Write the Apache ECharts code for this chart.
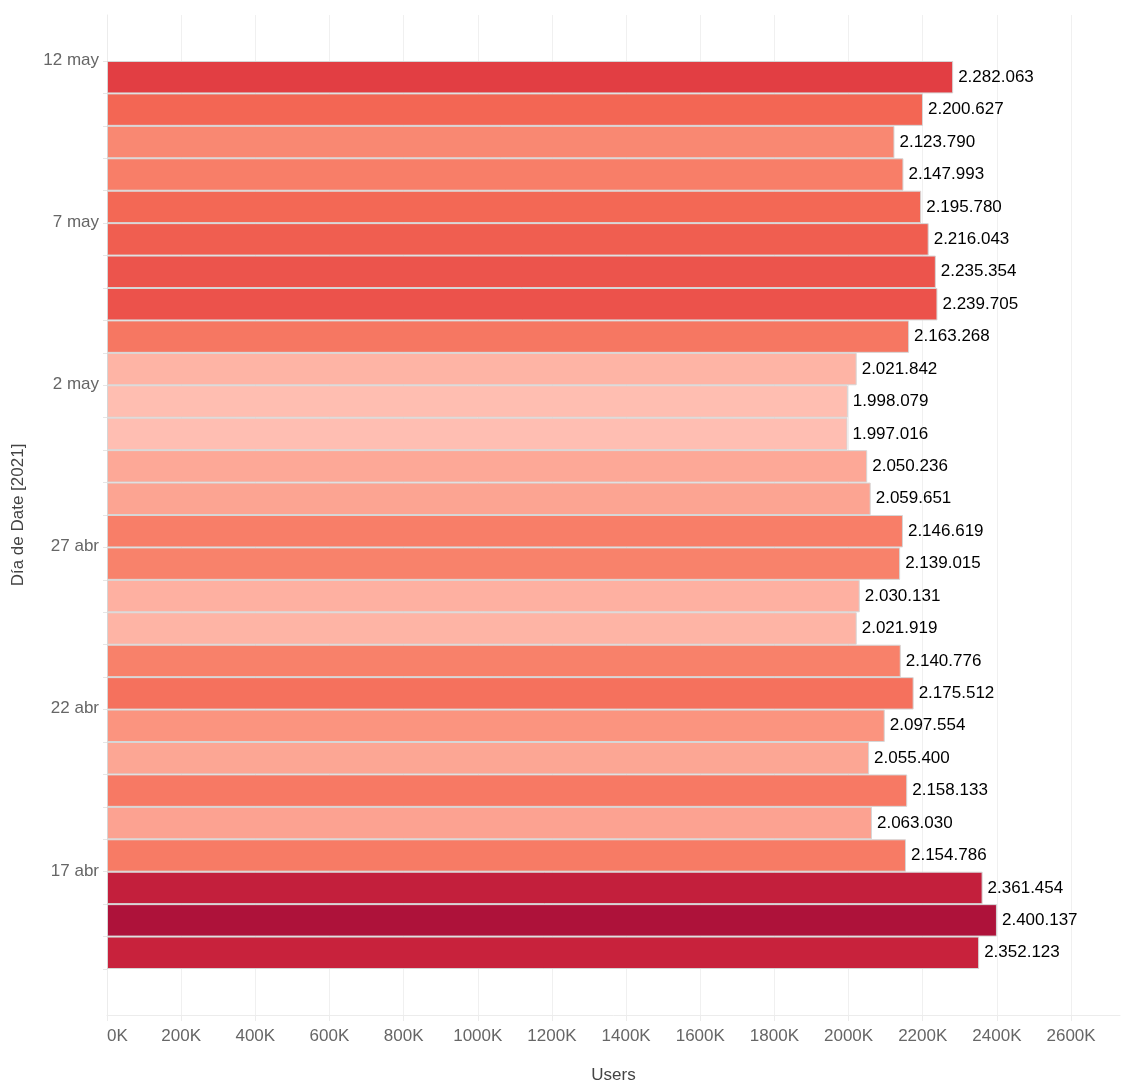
<!DOCTYPE html>
<html>
<head>
<meta charset="utf-8">
<script src="https://cdn.jsdelivr.net/npm/echarts@6/dist/echarts.min.js"></script>
<style>
  html, body { margin: 0; padding: 0; background: #fff; }
  #main { width: 1121px; height: 1081px; }
</style>
</head>
<body>
<div id="main"></div>
<script>
// dias, de abajo (15 abr) hacia arriba (12 may)
var days = ['15 abr', '16 abr', '17 abr', '18 abr', '19 abr', '20 abr', '21 abr',
            '22 abr', '23 abr', '24 abr', '25 abr', '26 abr', '27 abr', '28 abr',
            '29 abr', '30 abr', '1 may', '2 may', '3 may', '4 may', '5 may',
            '6 may', '7 may', '8 may', '9 may', '10 may', '11 may', '12 may'];

var users = [2352123, 2400137, 2361454, 2154786, 2063030, 2158133, 2055400,
             2097554, 2175512, 2140776, 2021919, 2030131, 2139015, 2146619,
             2059651, 2050236, 1997016, 1998079, 2021842, 2163268, 2239705,
             2235354, 2216043, 2195780, 2147993, 2123790, 2200627, 2282063];

var shownDays = ['17 abr', '22 abr', '27 abr', '2 may', '7 may', '12 may'];

var reds = ['#ffbeb2', '#fca290', '#f9856e', '#f36754', '#e74545', '#d3293d', '#ae123a'];

function fmtDots(v) {
    return String(v).replace(/\B(?=(\d{3})+(?!\d))/g, '.');
}

var chart = echarts.init(document.getElementById('main'));

var option = {
    animation: false,
    textStyle: { fontFamily: 'Liberation Sans, Arial, sans-serif' },
    grid: [
        { left: 107, right: 1, top: 15, bottom: 66, outerBoundsMode: 'none' },   // marco, ejes y rejilla
        { left: 107, right: 1, top: 61, bottom: 112, outerBoundsMode: 'none' }   // barras
    ],
    visualMap: {
        show: false,
        type: 'continuous',
        seriesIndex: 0,
        dimension: 0,
        min: Math.min.apply(null, users),
        max: Math.max.apply(null, users),
        inRange: { color: reds }
    },
    xAxis: [
        {
            type: 'value',
            gridIndex: 0,
            min: 0,
            max: 2732000,
            interval: 200000,
            name: 'Users',
            nameLocation: 'middle',
            nameGap: 52,
            nameTextStyle: { fontSize: 17, color: '#444' },
            axisLine: { show: true, lineStyle: { color: '#ececec', width: 1 } },
            axisTick: { show: true, length: 6, lineStyle: { color: '#ececec' } },
            axisLabel: {
                fontSize: 17,
                color: '#666',
                margin: 13,
                alignMinLabel: 'left',
                showMaxLabel: false,
                formatter: function (v) { return (v / 1000) + 'K'; }
            },
            splitLine: { show: true, showMaxLine: false, lineStyle: { color: '#f0f0f0', width: 1 } }
        },
        {
            type: 'value',
            gridIndex: 1,
            min: 0,
            max: 2732000,
            show: false
        }
    ],
    yAxis: [
        {
            type: 'value',
            gridIndex: 0,
            min: 0,
            max: 1,
            name: 'Día de Date [2021]',
            nameLocation: 'middle',
            nameGap: 80,
            nameTextStyle: { fontSize: 17, color: '#444' },
            axisLine: { show: true, lineStyle: { color: '#ececec', width: 1 } },
            axisTick: { show: false },
            axisLabel: { show: false },
            splitLine: { show: false }
        },
        {
            type: 'category',
            gridIndex: 1,
            data: days,
            axisLine: { show: false },
            axisTick: { show: true, interval: 0, length: 4, lineStyle: { color: '#e6e6e6' } },
            axisLabel: {
                fontSize: 17,
                color: '#666',
                margin: 8,
                verticalAlign: 'bottom',
                lineHeight: 34,
                interval: function (i, v) { return shownDays.indexOf(v) >= 0; }
            },
            splitLine: { show: false }
        }
    ],
    series: [
        {
            type: 'bar',
            xAxisIndex: 1,
            yAxisIndex: 1,
            data: users,
            barCategoryGap: '0%',
            itemStyle: { borderColor: '#d6d6d6', borderWidth: 1 },
            label: {
                show: true,
                position: 'right',
                distance: 5,
                fontSize: 17,
                color: '#000',
                formatter: function (p) { return fmtDots(p.value); }
            }
        }
    ]
};

chart.setOption(option);
</script>
</body>
</html>
